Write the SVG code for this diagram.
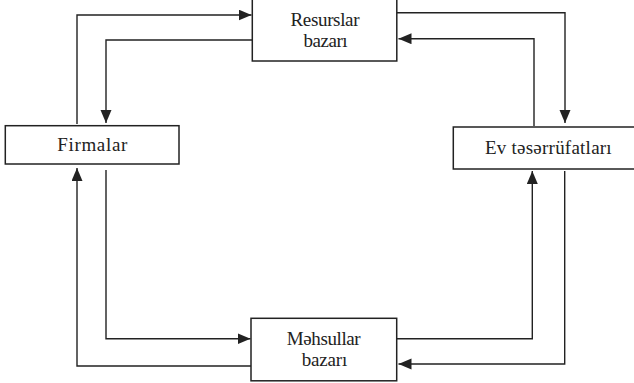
<svg xmlns="http://www.w3.org/2000/svg" width="634" height="383" viewBox="0 0 634 383">
<style>
.box{fill:#fff;stroke:#222;stroke-width:1.5}
.lbl{font-family:"Liberation Serif","Times New Roman",serif;font-size:19px;fill:#222;text-anchor:middle}
.wire{fill:none;stroke:#222;stroke-width:1.4}
</style>
<defs>
<marker id="ah" markerUnits="userSpaceOnUse" markerWidth="14" markerHeight="12" refX="13" refY="5.5" orient="auto">
<path d="M0,0 L13,5.5 L0,11 Z" fill="#222"/>
</marker>
</defs>
<rect width="634" height="383" fill="#fff"/>
<g id="connectors">
<path class="wire" d="M77,124 V15 H251.5" marker-end="url(#ah)"/>
<path class="wire" d="M252,40 H106 V123" marker-end="url(#ah)"/>
<path class="wire" d="M397,12.7 H565 V123" marker-end="url(#ah)"/>
<path class="wire" d="M534,126 V38.7 H398.5" marker-end="url(#ah)"/>
<path class="wire" d="M397,338.7 H532.3 V171" marker-end="url(#ah)"/>
<path class="wire" d="M564.7,171 V364 H398.5" marker-end="url(#ah)"/>
<path class="wire" d="M106,170 V338.7 H250.5" marker-end="url(#ah)"/>
<path class="wire" d="M252,366 H77 V168" marker-end="url(#ah)"/>
</g>
<g id="resurslar">
<rect class="box" x="252.3" y="-2" width="144.5" height="63"/>
<text class="lbl" x="325" y="25.7" textLength="69" lengthAdjust="spacing">Resurslar</text>
<text class="lbl" x="325.5" y="46.7" textLength="44" lengthAdjust="spacing">bazarı</text>
</g>
<g id="firmalar">
<rect class="box" x="5.3" y="125.7" width="173.7" height="38.3"/>
<text class="lbl" x="92.3" y="151" textLength="70" lengthAdjust="spacing">Firmalar</text>
</g>
<g id="ev">
<rect class="box" x="453.3" y="127" width="190" height="42"/>
<text class="lbl" x="548.3" y="154" textLength="126.7" lengthAdjust="spacing">Ev təsərrüfatları</text>
</g>
<g id="mehsullar">
<rect class="box" x="251" y="318.3" width="145.7" height="62.5"/>
<text class="lbl" x="323.7" y="344.7" textLength="74" lengthAdjust="spacing">Məhsullar</text>
<text class="lbl" x="324.5" y="365.7" textLength="45.6" lengthAdjust="spacing">bazarı</text>
</g>
</svg>
